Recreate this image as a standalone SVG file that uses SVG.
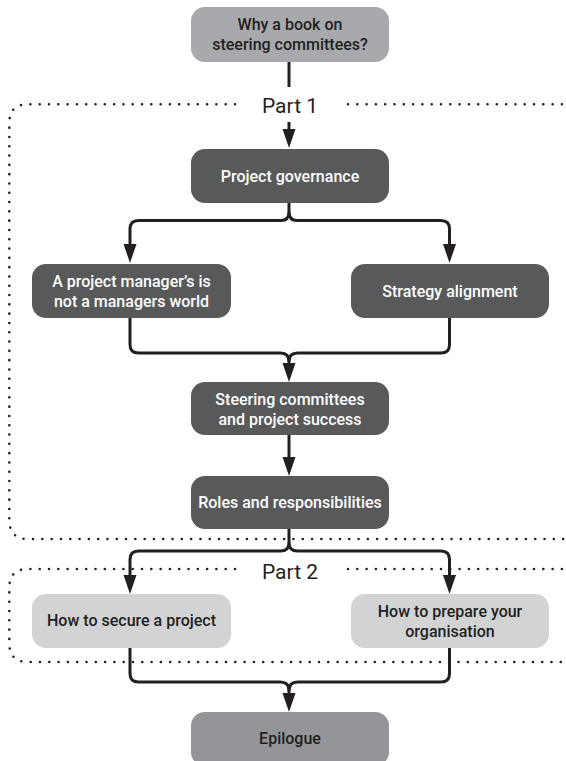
<svg xmlns="http://www.w3.org/2000/svg" width="566" height="761" viewBox="0 0 566 761">
<defs>
<style>
.t{font-family:Roboto,"Liberation Sans",Arial,sans-serif;font-weight:500;font-size:16px;text-anchor:middle}
.w{fill:#ffffff}
.k{fill:#231f20}
.dark{fill:#58595b}
.mid{fill:#939598}
.grey{fill:#a7a9ac}
.light{fill:#d1d3d4}
.c{fill:none;stroke:#231f20;stroke-width:3;marker-end:url(#ah)}
.cn{fill:none;stroke:#231f20;stroke-width:3}
.dot{fill:none;stroke:#231f20;stroke-width:2.6;stroke-linecap:round;stroke-dasharray:0 9.3}
.part{font-family:Roboto,"Liberation Sans",Arial,sans-serif;font-size:21px;fill:#231f20;text-anchor:middle}
</style>
<marker id="ah" markerUnits="userSpaceOnUse" markerWidth="20" markerHeight="14" refX="0" refY="7" orient="auto" viewBox="0 0 20 14">
<path d="M0,0.5 L19,7 L0,13.5 z" fill="#231f20"/>
</marker>
</defs>

<g id="frames">
<path class="dot" d="M235 104.3 H28 Q9.3 104.3 9.3 123 V520 Q9.3 539 28 539 H566"/>
<path class="dot" d="M348 104.3 H566"/>
<path class="dot" d="M235 569 H28 Q9.3 569 9.3 588 V643 Q9.3 662 28 662 H566"/>
<path class="dot" d="M348 569 H566"/>
<text class="part" x="290" y="113">Part 1</text>
<text class="part" x="290" y="579">Part 2</text>
</g>

<g id="connectors">
<path class="cn" d="M289 62 V87"/>
<path class="c" d="M289 122 V129"/>
<path class="c" d="M289 203 V212 Q289 220.5 281 220.5 H138.5 Q130 220.5 130 229 V244"/>
<path class="c" d="M289 212 Q289 220.5 297 220.5 H441 Q449.5 220.5 449.5 229 V244"/>
<path class="c" d="M130 318 V344.5 Q130 353 138.5 353 H280.5 Q289 353 289 361.5 V363"/>
<path class="cn" d="M449.5 318 V344.5 Q449.5 353 441 353 H297.5 Q289 353 289 361.5"/>
<path class="c" d="M289 435 V457"/>
<path class="c" d="M289 529 V542.5 Q289 551 280.5 551 H138.5 Q130 551 130 559.5 V575"/>
<path class="c" d="M289 542.5 Q289 551 297.5 551 H441 Q449.5 551 449.5 559.5 V575"/>
<path class="c" d="M130 648 V673.5 Q130 682 138.5 682 H280.5 Q289 682 289 690.5 V693"/>
<path class="cn" d="M449.5 648 V673.5 Q449.5 682 441 682 H297.5 Q289 682 289 690.5"/>
</g>

<g id="why">
<rect class="grey" x="191" y="7" width="198" height="55" rx="14"/>
<text class="t k" x="290" y="30">Why a book on</text>
<text class="t k" x="290" y="50">steering committees?</text>
</g>

<g id="governance">
<rect class="dark" x="191" y="149" width="198" height="54" rx="14"/>
<text class="t w" x="290" y="182">Project governance</text>
</g>

<g id="pm-world">
<rect class="dark" x="32" y="264" width="199" height="54" rx="14"/>
<text class="t w" x="131.5" y="287">A project manager’s is</text>
<text class="t w" x="131.5" y="307">not a managers world</text>
</g>

<g id="strategy">
<rect class="dark" x="351" y="264" width="198" height="54" rx="14"/>
<text class="t w" x="450" y="297">Strategy alignment</text>
</g>

<g id="success">
<rect class="dark" x="191" y="382" width="198" height="53" rx="14"/>
<text class="t w" x="290" y="405">Steering committees</text>
<text class="t w" x="290" y="425">and project success</text>
</g>

<g id="roles">
<rect class="dark" x="191" y="476" width="198" height="53" rx="14"/>
<text class="t w" x="290" y="508">Roles and responsibilities</text>
</g>

<g id="secure">
<rect class="light" x="32" y="594" width="199" height="54" rx="14"/>
<text class="t k" x="131.5" y="626">How to secure a project</text>
</g>

<g id="prepare">
<rect class="light" x="351" y="594" width="198" height="54" rx="14"/>
<text class="t k" x="450" y="617">How to prepare your</text>
<text class="t k" x="450" y="637">organisation</text>
</g>

<g id="epilogue">
<rect class="mid" x="191" y="712" width="198" height="54" rx="14"/>
<text class="t k" x="290" y="744">Epilogue</text>
</g>
</svg>
